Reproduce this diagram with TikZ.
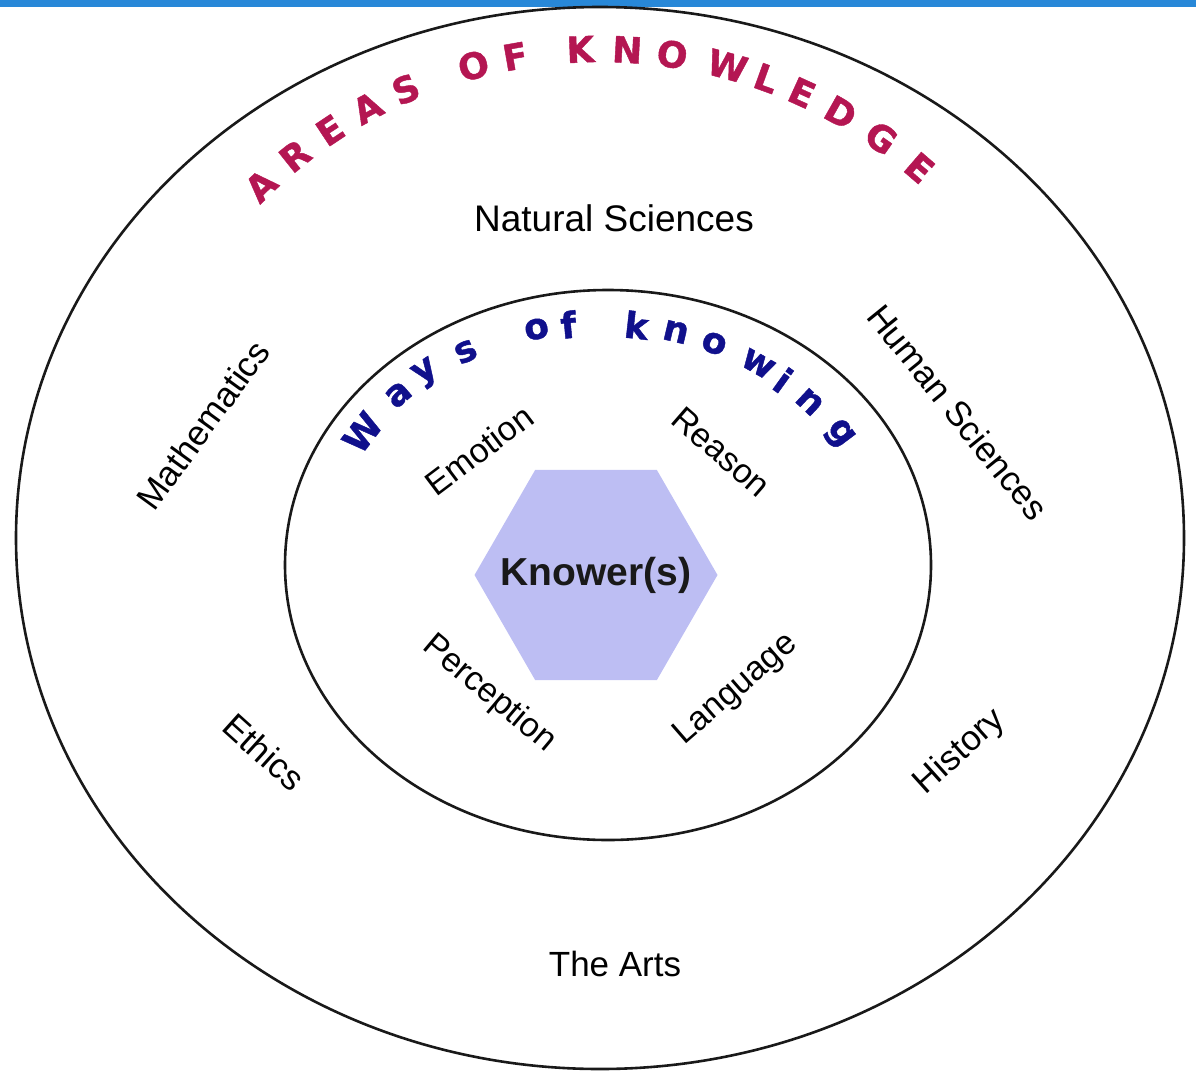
\documentclass[tikz,border=0pt]{standalone}
\usepackage{fontspec}
\setmainfont{Liberation Sans}
\newfontfamily\titlefont[FakeBold=1.2]{DejaVu Sans Bold}
\usetikzlibrary{shapes.geometric}

\definecolor{barblue}{RGB}{40,136,216}
\definecolor{aokred}{RGB}{180,22,82}
\definecolor{wokblue}{RGB}{16,16,140}
\definecolor{knowerfill}{RGB}{189,190,243}

\begin{document}
\begin{tikzpicture}
        [x=1pt,y=-1pt,
        ring/.style={draw=black!90,line width=2.6pt},
        area/.style={font=\fontsize{35}{40}\selectfont,inner sep=0pt},
        way/.style={font=\fontsize{34}{38}\selectfont,inner sep=0pt},
        aokletter/.style={text=aokred,font=\titlefont\fontsize{36}{40}\selectfont,inner sep=0pt},
        wokletter/.style={text=wokblue,font=\titlefont\fontsize{36}{40}\selectfont,inner sep=0pt},
        hexagon/.style={regular polygon,regular polygon sides=6,minimum size=243pt,inner sep=0pt,
          fill=knowerfill},
        knower/.style={inner sep=0pt,text=black!90,font=\fontsize{39}{42}\selectfont\bfseries}]
        \useasboundingbox (0,0) rectangle (1196,1071);
        \fill[barblue] (0,0) rectangle (1196,7);
        % the two rings
        \draw[ring] (600,538) ellipse [x radius=584,y radius=531];
        \draw[ring] (608,565) ellipse [x radius=323,y radius=275];
        % curved titles
        \foreach \ch/\ang [count=\i] in {A/133.9,R/128.6,E/123.5,A/118.4,S/113.4,O/105.0,F/100.0,
            K/92.3,N/86.8,O/81.5,W/74.9,L/70.1,E/65.6,D/60.5,G/54.9,E/49.2}
          \node[aokletter,rotate=\ang-90] (aok-\i) at ({600+489*cos(\ang)},{538-489*sin(\ang)}) {\ch};
        \foreach \ch/\ang [count=\i] in {W/146.8,a/135.2,y/127.7,s/118.2,o/102.9,f/96.4,
            k/82.6,n/74.5,o/66.3,w/56.2,i/49.8,n/42.4,g/32.7}
          \node[wokletter,rotate={atan2(-242*cos(\ang),284*sin(\ang))}] (wok-\i)
            at ({600+284*cos(\ang)},{565-242*sin(\ang)}) {\ch};
        % areas of knowledge
        \node[area,font=\fontsize{37}{40}\selectfont] (natsci) at (614,218) {Natural Sciences};
        \node[area] (arts) at (615,964) {The Arts};
        \node[area,rotate=54] (maths) at (203,425) {Mathematics};
        \node[area,rotate=-51] (humsci) at (958,412) {Human Sciences};
        \node[area,rotate=-42] (ethics) at (264,752) {Ethics};
        \node[area,rotate=42] (history) at (960,752) {History};
        % ways of knowing
        \node[way,rotate=37] (emotion) at (479,450) {Emotion};
        \node[way,rotate=-41] (reason) at (721,452) {Reason};
        \node[way,rotate=-40] (perception) at (489,694) {Perception};
        \node[way,rotate=41] (language) at (736,690) {Language};
        \node[hexagon] (hex) at (596,575) {};
        \node[knower] (knower) at (hex.center) {Knower(s)};
\end{tikzpicture}
\end{document}
